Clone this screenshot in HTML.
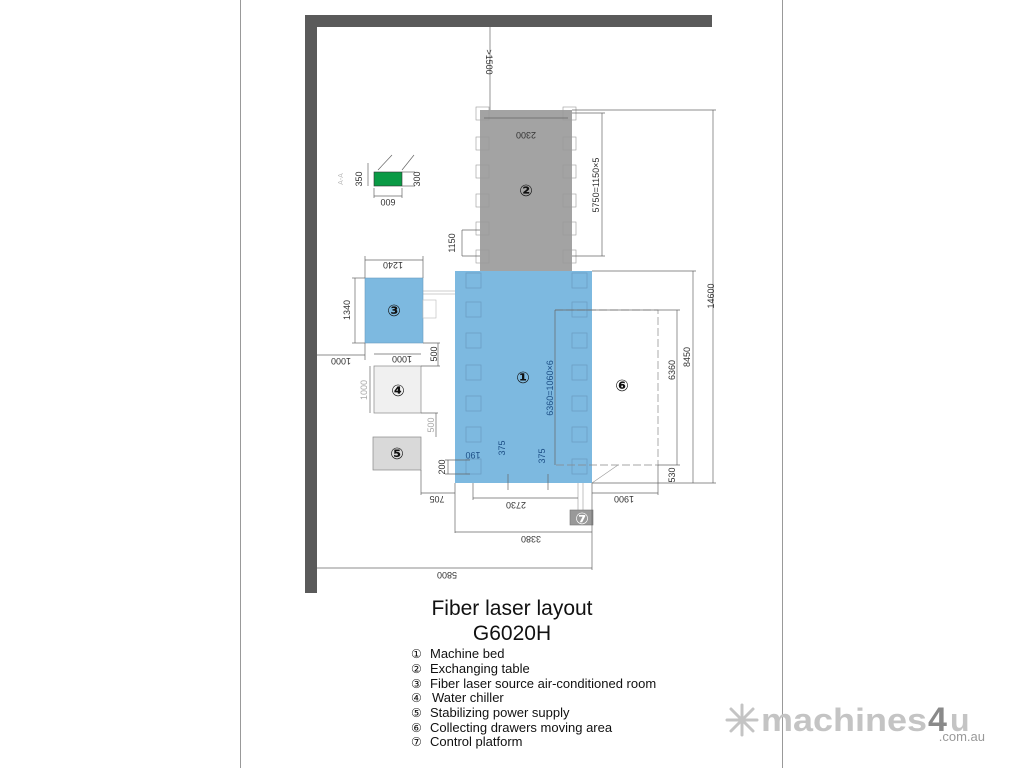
<!DOCTYPE html>
<html><head><meta charset="utf-8"><style>
html,body{margin:0;padding:0;background:#fff;width:1024px;height:768px;overflow:hidden}
svg{display:block}
text{font-family:"Liberation Sans","DejaVu Sans",sans-serif}
.d{font-size:9px;fill:#333}
.l{stroke:#666;stroke-width:0.7;fill:none}
.t{stroke:#999;stroke-width:0.6;fill:none}
.c{font-family:"DejaVu Sans",sans-serif;font-size:16px;font-weight:bold;fill:#111}
</style></head><body>
<svg width="1024" height="768" viewBox="0 0 1024 768">
<line x1="240.5" y1="0" x2="240.5" y2="768" stroke="#999" stroke-width="1"/>
<line x1="782.5" y1="0" x2="782.5" y2="768" stroke="#999" stroke-width="1"/>
<rect x="305" y="15" width="12" height="578" fill="#5a5a5a"/>
<rect x="305" y="15" width="407" height="12" fill="#5a5a5a"/>
<rect x="480" y="110" width="92" height="161" fill="#a3a3a3"/>
<g class="t">
<rect x="476" y="107" width="13" height="13"/><rect x="563" y="107" width="13" height="13"/>
<rect x="476" y="137" width="13" height="13"/><rect x="563" y="137" width="13" height="13"/>
<rect x="476" y="165" width="13" height="13"/><rect x="563" y="165" width="13" height="13"/>
<rect x="476" y="194" width="13" height="13"/><rect x="563" y="194" width="13" height="13"/>
<rect x="476" y="222" width="13" height="13"/><rect x="563" y="222" width="13" height="13"/>
<rect x="476" y="250" width="13" height="13"/><rect x="563" y="250" width="13" height="13"/>
</g>
<rect x="455" y="271" width="137" height="212" fill="#7db9e0"/>
<g stroke="#6a9cc0" stroke-width="0.7" fill="none">
<rect x="466" y="273" width="15" height="15"/><rect x="572" y="273" width="15" height="15"/>
<rect x="466" y="302" width="15" height="15"/><rect x="572" y="302" width="15" height="15"/>
<rect x="466" y="333" width="15" height="15"/><rect x="572" y="333" width="15" height="15"/>
<rect x="466" y="365" width="15" height="15"/><rect x="572" y="365" width="15" height="15"/>
<rect x="466" y="396" width="15" height="15"/><rect x="572" y="396" width="15" height="15"/>
<rect x="466" y="427" width="15" height="15"/><rect x="572" y="427" width="15" height="15"/>
<rect x="466" y="459" width="15" height="15"/><rect x="572" y="459" width="15" height="15"/>
</g>
<rect x="365" y="278" width="58" height="65" fill="#7db9e0" stroke="#6a9cc0" stroke-width="0.6"/>
<rect x="423" y="300" width="13" height="18" fill="#fff" stroke="#bbb" stroke-width="0.6"/>
<line x1="423" y1="291" x2="455" y2="291" class="t"/><line x1="423" y1="294" x2="455" y2="294" class="t"/>
<rect x="374" y="366" width="47" height="47" fill="#f0f0f0" stroke="#888" stroke-width="0.7"/>
<rect x="373" y="437" width="48" height="33" fill="#d9d9d9" stroke="#888" stroke-width="0.7"/>
<rect x="374" y="172" width="28" height="14" fill="#0a9a45" stroke="#333" stroke-width="0.6"/>
<path d="M555 310 H658 V465 H555" stroke="#888" stroke-width="0.7" fill="none" stroke-dasharray="8,3"/>
<line x1="592" y1="483" x2="618" y2="465" class="t"/>
<line x1="578" y1="483" x2="578" y2="510" class="t"/><line x1="583" y1="483" x2="583" y2="510" class="t"/>
<rect x="570" y="510" width="23" height="15" fill="#999" stroke="#777" stroke-width="0.6"/>
<g class="l">
<line x1="490" y1="27" x2="490" y2="110"/>
<line x1="484" y1="118" x2="568" y2="118"/>
<line x1="572" y1="113" x2="605" y2="113"/><line x1="572" y1="256" x2="605" y2="256"/>
<line x1="602" y1="113" x2="602" y2="256"/>
<line x1="572" y1="110" x2="716" y2="110"/><line x1="713" y1="110" x2="713" y2="483"/>
<line x1="592" y1="271" x2="696" y2="271"/><line x1="693" y1="271" x2="693" y2="483"/>
<line x1="555" y1="310" x2="680" y2="310"/><line x1="677" y1="310" x2="677" y2="465"/>
<line x1="555" y1="310" x2="555" y2="465"/>
<line x1="592" y1="483" x2="716" y2="483"/>
<line x1="658" y1="465" x2="680" y2="465"/>
<line x1="462" y1="230" x2="480" y2="230"/><line x1="462" y1="256" x2="480" y2="256"/><line x1="462" y1="230" x2="462" y2="256"/>
<line x1="365" y1="256" x2="365" y2="278"/><line x1="423" y1="256" x2="423" y2="278"/><line x1="365" y1="260" x2="423" y2="260"/>
<line x1="352" y1="278" x2="365" y2="278"/><line x1="352" y1="343" x2="365" y2="343"/><line x1="355" y1="278" x2="355" y2="343"/>
<line x1="317" y1="355" x2="365" y2="355"/><line x1="365" y1="343" x2="365" y2="360"/>
<line x1="374" y1="354" x2="421" y2="354"/>
<line x1="423" y1="343" x2="440" y2="343"/><line x1="421" y1="366" x2="440" y2="366"/><line x1="438" y1="343" x2="438" y2="366"/>
<line x1="370" y1="366" x2="370" y2="413"/>
<line x1="421" y1="413" x2="438" y2="413"/><line x1="436" y1="413" x2="436" y2="437"/>
<line x1="421" y1="470" x2="421" y2="495"/><line x1="421" y1="493" x2="455" y2="493"/>
<line x1="445" y1="460" x2="470" y2="460"/><line x1="445" y1="474" x2="470" y2="474"/><line x1="448" y1="460" x2="448" y2="474"/>
<line x1="508" y1="474" x2="508" y2="490"/><line x1="548" y1="474" x2="548" y2="490"/>
<line x1="473" y1="483" x2="473" y2="500"/><line x1="473" y1="498" x2="578" y2="498"/>
<line x1="455" y1="483" x2="455" y2="533"/><line x1="592" y1="483" x2="592" y2="570"/>
<line x1="455" y1="532" x2="592" y2="532"/>
<line x1="317" y1="568" x2="592" y2="568"/>
<line x1="592" y1="493" x2="658" y2="493"/><line x1="658" y1="465" x2="658" y2="495"/>
<line x1="374" y1="188" x2="374" y2="198"/><line x1="402" y1="188" x2="402" y2="198"/><line x1="374" y1="196" x2="402" y2="196"/>
<line x1="402" y1="172" x2="415" y2="172"/><line x1="402" y1="186" x2="415" y2="186"/>
<line x1="368" y1="163" x2="368" y2="186"/>
<line x1="378" y1="170" x2="392" y2="155"/><line x1="402" y1="170" x2="414" y2="155"/>
</g>
<g class="d">
<text transform="translate(486,62) rotate(90)" text-anchor="middle">&gt;1500</text>
<text transform="translate(526,132) rotate(180)" text-anchor="middle">2300</text>
<text transform="translate(599,185) rotate(-90)" text-anchor="middle">5750=1150×5</text>
<text transform="translate(455,243) rotate(-90)" text-anchor="middle">1150</text>
<text transform="translate(714,296) rotate(-90)" text-anchor="middle">14600</text>
<text transform="translate(690,357) rotate(-90)" text-anchor="middle">8450</text>
<text transform="translate(675,370) rotate(-90)" text-anchor="middle">6360</text>
<text transform="translate(675,475) rotate(-90)" text-anchor="middle">530</text>
<text transform="translate(553,388) rotate(-90)" text-anchor="middle" fill="#1d4f86">6360=1060×6</text>
<text transform="translate(505,448) rotate(-90)" text-anchor="middle" fill="#1d4f86">375</text>
<text transform="translate(545,456) rotate(-90)" text-anchor="middle" fill="#1d4f86">375</text>
<text transform="translate(473,452) rotate(180)" text-anchor="middle" fill="#1d4f86">190</text>
<text transform="translate(445,467) rotate(-90)" text-anchor="middle">200</text>
<text transform="translate(393,262) rotate(180)" text-anchor="middle">1240</text>
<text transform="translate(350,310) rotate(-90)" text-anchor="middle">1340</text>
<text transform="translate(341,358) rotate(180)" text-anchor="middle">1000</text>
<text transform="translate(402,356) rotate(180)" text-anchor="middle">1000</text>
<text transform="translate(437,354) rotate(-90)" text-anchor="middle">500</text>
<text transform="translate(367,390) rotate(-90)" text-anchor="middle" fill="#aaa">1000</text>
<text transform="translate(434,425) rotate(-90)" text-anchor="middle" fill="#aaa">500</text>
<text transform="translate(437,496) rotate(180)" text-anchor="middle">705</text>
<text transform="translate(516,502) rotate(180)" text-anchor="middle">2730</text>
<text transform="translate(624,496) rotate(180)" text-anchor="middle">1900</text>
<text transform="translate(531,536) rotate(180)" text-anchor="middle">3380</text>
<text transform="translate(447,572) rotate(180)" text-anchor="middle">5800</text>
<text transform="translate(388,199) rotate(180)" text-anchor="middle">600</text>
<text transform="translate(362,179) rotate(-90)" text-anchor="middle">350</text>
<text transform="translate(420,179) rotate(-90)" text-anchor="middle">300</text>
<text transform="translate(343,179) rotate(-90)" text-anchor="middle" fill="#bbb" font-size="7">A-A</text>
</g>
<text x="526" y="196" class="c" text-anchor="middle">②</text>
<text x="523" y="383" class="c" text-anchor="middle">①</text>
<text x="394" y="316" class="c" text-anchor="middle">③</text>
<text x="398" y="396" class="c" text-anchor="middle">④</text>
<text x="397" y="459" class="c" text-anchor="middle">⑤</text>
<text x="622" y="391" class="c" text-anchor="middle">⑥</text>
<text x="582" y="524" class="c" text-anchor="middle" style="fill:#fff">⑦</text>
<text x="512" y="615" text-anchor="middle" font-size="21" fill="#111">Fiber laser layout</text>
<text x="512" y="640" text-anchor="middle" font-size="21" fill="#111">G6020H</text>
<g font-size="13" fill="#111" style="font-family:'DejaVu Sans',sans-serif">
<text x="411" y="658" font-size="12">①</text><text x="430" y="658">Machine bed</text>
<text x="411" y="673" font-size="12">②</text><text x="430" y="673">Exchanging table</text>
<text x="411" y="688" font-size="12">③</text><text x="430" y="688">Fiber laser source air-conditioned room</text>
<text x="411" y="702" font-size="12">④</text><text x="432" y="702">Water chiller</text>
<text x="411" y="717" font-size="12">⑤</text><text x="430" y="717">Stabilizing power supply</text>
<text x="411" y="732" font-size="12">⑥</text><text x="430" y="732">Collecting drawers moving area</text>
<text x="411" y="746" font-size="12">⑦</text><text x="430" y="746">Control platform</text>
</g>
<g stroke="#c4c4c4" stroke-width="3" stroke-linecap="round">
<line x1="742" y1="705" x2="742" y2="735"/><line x1="727" y1="720" x2="757" y2="720"/>
<line x1="731" y1="709" x2="753" y2="731"/><line x1="753" y1="709" x2="731" y2="731"/>
</g>
<text x="761" y="731" font-size="32" font-weight="bold" fill="#c4c4c4" textLength="166" lengthAdjust="spacingAndGlyphs">machines</text>
<text x="928" y="731" font-size="34" font-weight="bold" fill="#8a8a8a">4</text>
<text x="950" y="731" font-size="32" font-weight="bold" fill="#c4c4c4">u</text>
<text x="985" y="741" font-size="13" fill="#999" text-anchor="end">.com.au</text>
</svg>
</body></html>
